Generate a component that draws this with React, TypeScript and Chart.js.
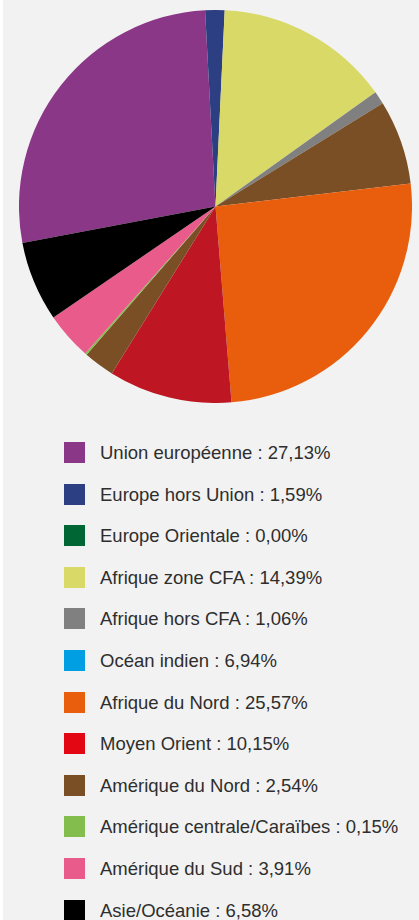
import React, { useEffect, useRef } from "react";
import { Chart, registerables } from "chart.js";

Chart.register(...registerables);

const categories: string[] = [
  "Union européenne",
  "Europe hors Union",
  "Europe Orientale",
  "Afrique zone CFA",
  "Afrique hors CFA",
  "Océan indien",
  "Afrique du Nord",
  "Moyen Orient",
  "Amérique du Nord",
  "Amérique centrale/Caraïbes",
  "Amérique du Sud",
  "Asie/Océanie",
];

const values: number[] = [27.13, 1.59, 0.0, 14.39, 1.06, 6.94, 25.57, 10.15, 2.54, 0.15, 3.91, 6.58];

const valueLabels: string[] = [
  "27,13%", "1,59%", "0,00%", "14,39%", "1,06%", "6,94%",
  "25,57%", "10,15%", "2,54%", "0,15%", "3,91%", "6,58%",
];

const sliceColors: string[] = [
  "#8b3788", "#2b3f82", "#006633", "#d8d966", "#808080", "#7b4f25",
  "#e95e0c", "#be1622", "#7b4f25", "#82bd4e", "#e95b8b", "#000000",
];

const legendColors: string[] = [
  "#8b3788", "#2b3f82", "#006633", "#d8d966", "#808080", "#009fe3",
  "#e95e0c", "#e30613", "#7b4f25", "#82bd4e", "#e95b8b", "#000000",
];

export default function App() {
  const canvasRef = useRef<HTMLCanvasElement | null>(null);

  useEffect(() => {
    document.body.style.margin = "0";
    document.body.style.background = "#ffffff";
    if (!canvasRef.current) return;
    const chart = new Chart(canvasRef.current, {
      type: "pie",
      data: {
        labels: categories,
        datasets: [
          {
            data: values,
            backgroundColor: sliceColors,
            borderWidth: 0,
          },
        ],
      },
      options: {
        animation: false,
        responsive: false,
        rotation: -100.7,
        plugins: {
          legend: { display: false },
          tooltip: { enabled: false },
        },
        layout: { padding: 0 },
      },
    });
    return () => chart.destroy();
  }, []);

  return (
    <div
      style={{
        position: "relative",
        marginLeft: 3,
        width: 416,
        height: 920,
        background: "#f2f2f2",
        overflow: "hidden",
      }}
    >
      <canvas
        ref={canvasRef}
        width={393}
        height={393}
        style={{ position: "absolute", left: 16, top: 10, width: 393, height: 393 }}
      />
      {categories.map((c, i) => (
        <div
          key={c}
          style={{
            position: "absolute",
            left: 61,
            top: 442 + i * 41.6,
            height: 21,
            display: "flex",
            alignItems: "center",
            whiteSpace: "nowrap",
          }}
        >
          <span
            style={{
              display: "inline-block",
              width: 21,
              height: 21,
              background: legendColors[i],
            }}
          />
          <span
            style={{
              marginLeft: 15,
              fontFamily: "'Liberation Sans', Arial, sans-serif",
              fontSize: 18.5,
              color: "#2e2e2e",
              lineHeight: "21px",
            }}
          >
            {c} : {valueLabels[i]}
          </span>
        </div>
      ))}
    </div>
  );
}
